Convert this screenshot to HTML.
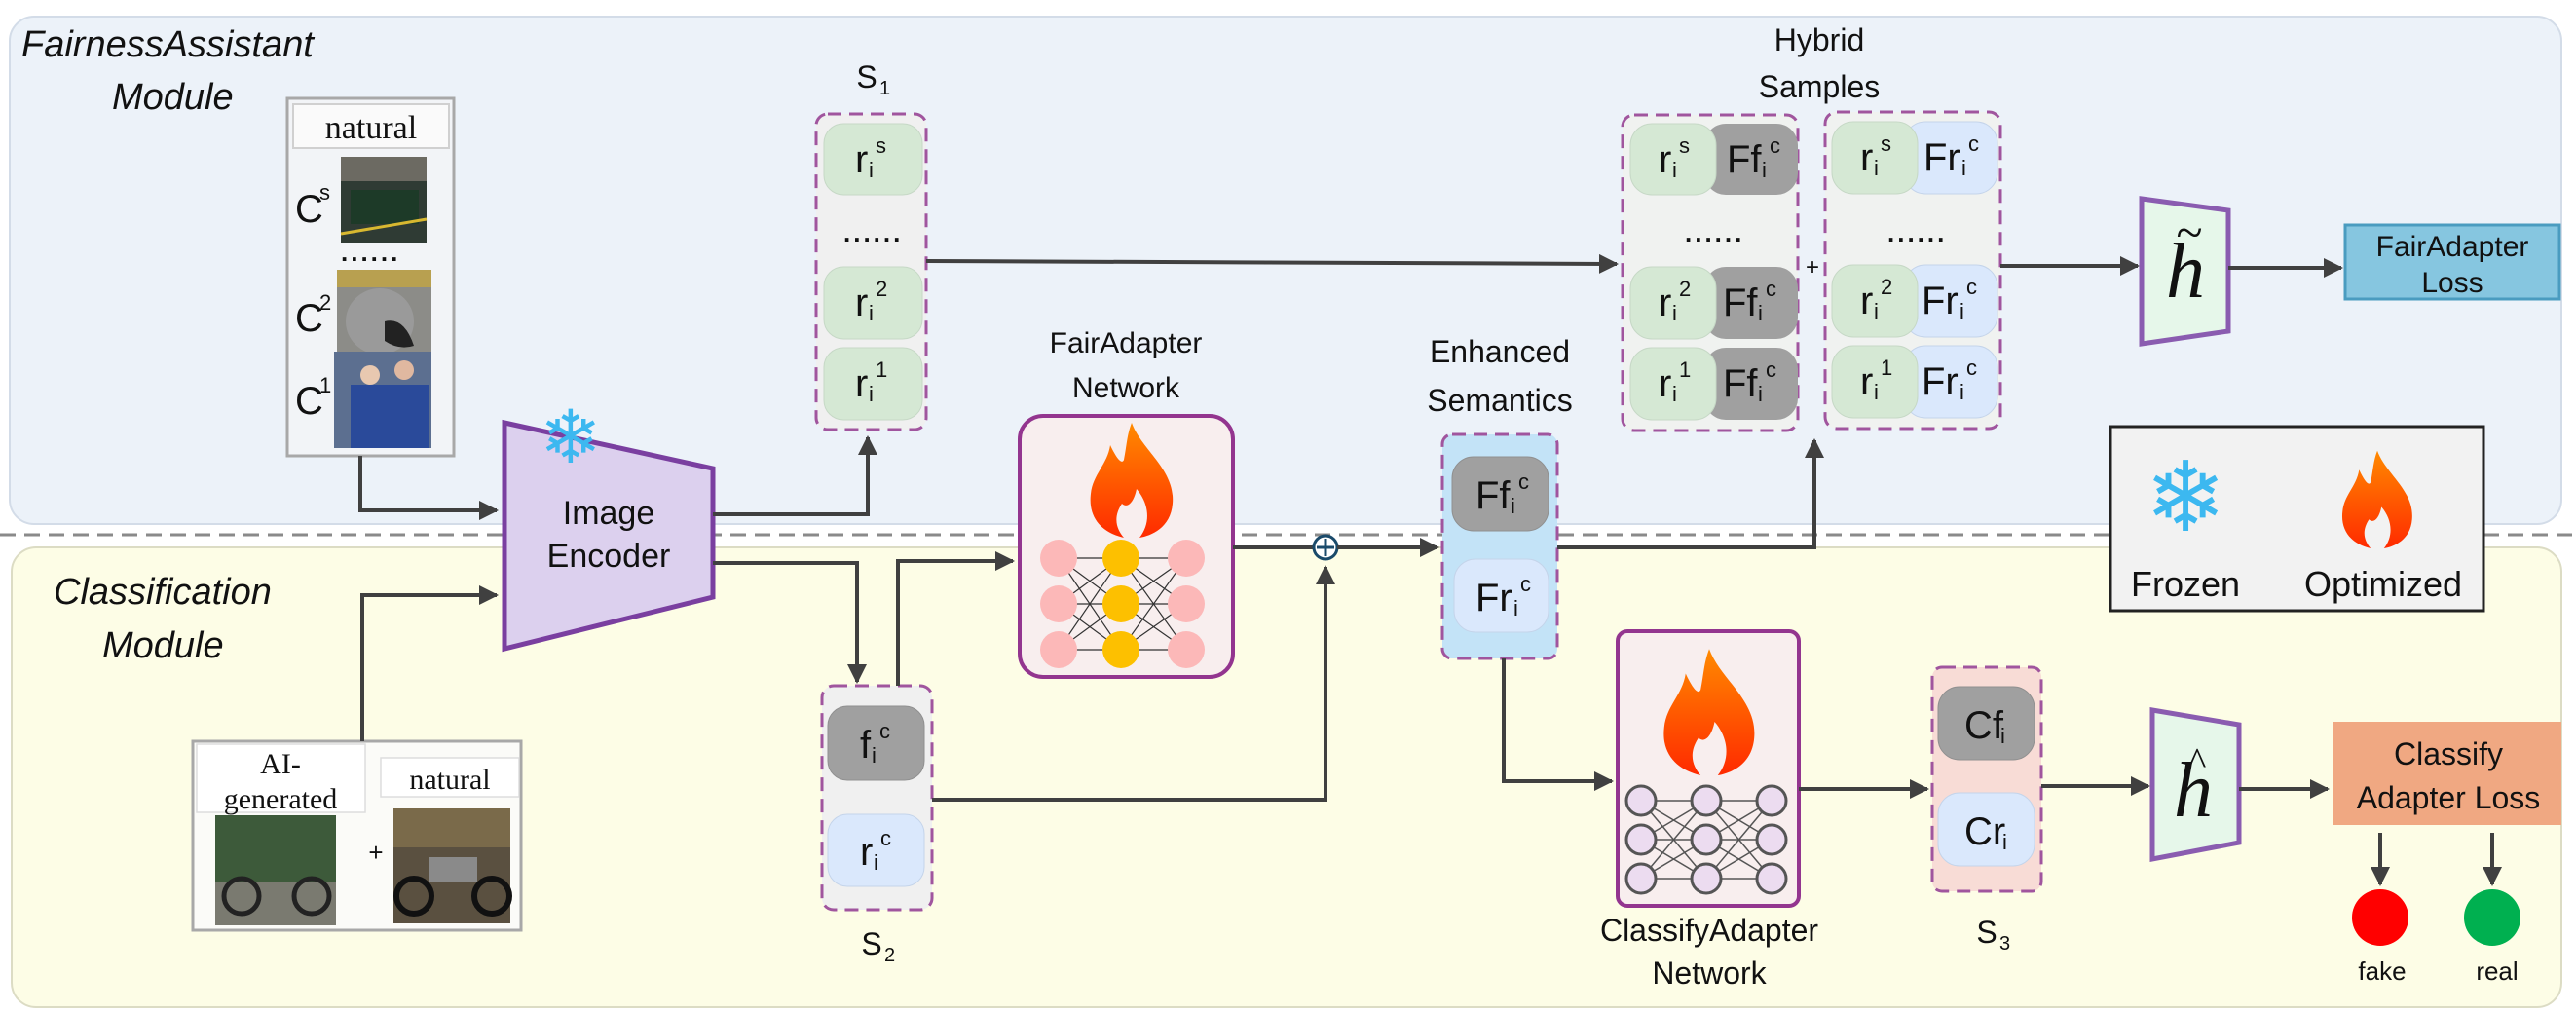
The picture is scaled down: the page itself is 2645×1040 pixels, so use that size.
<!DOCTYPE html>
<html><head><meta charset="utf-8"><style>
html,body{margin:0;padding:0;background:#fff}
svg{display:block}
text{font-family:"Liberation Sans",sans-serif;fill:#111}
</style></head><body>
<svg width="2645" height="1040" viewBox="0 0 2645 1040" xmlns="http://www.w3.org/2000/svg">
<defs>
<marker id="A" viewBox="0 0 10 10" refX="9" refY="5" markerWidth="20" markerHeight="20" orient="auto" markerUnits="userSpaceOnUse"><path d="M0,0 L10,5 L0,10 z" fill="#404040"/></marker>
<linearGradient id="fl" x1="0" y1="0" x2="0" y2="1"><stop offset="0" stop-color="#ff8a00"/><stop offset="1" stop-color="#ff2a00"/></linearGradient>
<g id="flame"><path d="M0,-58 C10,-30 45,-10 42,25 C40,50 20,58 8,60 C20,45 18,25 5,10 C2,25 -5,30 -10,25 C-20,40 -15,52 -8,60 C-30,55 -45,40 -42,15 C-40,-5 -25,-15 -22,-35 C-15,-20 -10,-15 -8,-20 C-5,-35 -5,-45 0,-58 z" fill="url(#fl)"/></g>
</defs>
<rect x="10" y="17" width="2620" height="521" rx="25" fill="#ecf2f9" stroke="#d3dce8" stroke-width="2"/>
<rect x="12" y="562" width="2618" height="472" rx="25" fill="#fdfde6" stroke="#dcdcc4" stroke-width="2"/>
<line x1="0" y1="549" x2="2645" y2="549" stroke="#8a8a8a" stroke-width="3" stroke-dasharray="16 9"/>
<text x="22" y="58" font-size="38" font-style="italic">FairnessAssistant</text>
<text x="115" y="112" font-size="38" font-style="italic">Module</text>
<text x="55" y="620" font-size="38" font-style="italic">Classification</text>
<text x="105" y="675" font-size="38" font-style="italic">Module</text>

<rect x="295" y="101" width="171" height="367" fill="#f2f4f7" stroke="#a8a8a8" stroke-width="3"/>
<rect x="301" y="107" width="160" height="45" fill="#fafafa" stroke="#d0d0d0" stroke-width="2"/>
<text x="381" y="142" font-size="34" text-anchor="middle" style="font-family:'Liberation Serif',serif">natural</text>
<rect x="350" y="161" width="88" height="88" fill="#2f3b34"/><rect x="350" y="161" width="88" height="25" fill="#6c6a62"/><rect x="360" y="195" width="70" height="35" fill="#1d3a28"/><line x1="350" y1="240" x2="438" y2="225" stroke="#d8b830" stroke-width="3"/>
<rect x="346" y="277" width="97" height="84" fill="#8c8c88"/><rect x="346" y="277" width="97" height="18" fill="#b8a050"/><ellipse cx="390" cy="330" rx="35" ry="34" fill="#9a9a9a"/><path d="M395,330 q20,-5 30,25 q-15,5 -30,-5z" fill="#222"/>
<rect x="343" y="361" width="100" height="99" fill="#5c6f90"/><rect x="360" y="395" width="80" height="65" fill="#2a4a9a"/><circle cx="380" cy="385" r="10" fill="#e8c8b0"/><circle cx="415" cy="380" r="10" fill="#e0b8a0"/>
<text x="303" y="228" font-size="40">C</text><text x="328" y="205" font-size="22">s</text>
<text x="350" y="268" font-size="26" font-weight="bold" letter-spacing="3">......</text>
<text x="303" y="340" font-size="40">C</text><text x="328" y="318" font-size="22">2</text>
<text x="303" y="425" font-size="40">C</text><text x="328" y="403" font-size="22">1</text>
<polyline points="370,468 370,524 510,524" fill="none" stroke="#404040" stroke-width="4" marker-end="url(#A)"/>

<rect x="198" y="761" width="337" height="194" fill="#fbfbf8" stroke="#a8a8a8" stroke-width="3"/>
<rect x="202" y="764" width="173" height="70" fill="#fff" stroke="#ddd" stroke-width="1.5"/>
<text x="288" y="794" font-size="30" text-anchor="middle" style="font-family:'Liberation Serif',serif">AI-</text>
<text x="288" y="830" font-size="30" text-anchor="middle" style="font-family:'Liberation Serif',serif">generated</text>
<rect x="391" y="778" width="142" height="40" fill="#fff" stroke="#ddd" stroke-width="1.5"/>
<text x="462" y="810" font-size="30" text-anchor="middle" style="font-family:'Liberation Serif',serif">natural</text>
<rect x="221" y="837" width="124" height="113" fill="#3d5a3a"/><rect x="221" y="905" width="124" height="45" fill="#7a7a70"/><circle cx="248" cy="920" r="18" fill="none" stroke="#222" stroke-width="5"/><circle cx="320" cy="920" r="18" fill="none" stroke="#222" stroke-width="5"/>
<rect x="404" y="830" width="120" height="118" fill="#5a5040"/><rect x="404" y="830" width="120" height="40" fill="#7a6a4a"/><circle cx="425" cy="920" r="18" fill="none" stroke="#111" stroke-width="6"/><circle cx="505" cy="920" r="18" fill="none" stroke="#111" stroke-width="6"/><rect x="440" y="880" width="50" height="25" fill="#8a8a8a"/>
<text x="386" y="884" font-size="26" text-anchor="middle">+</text>
<polyline points="372,761 372,611 510,611" fill="none" stroke="#404040" stroke-width="4" marker-end="url(#A)"/>

<polygon points="518,434 732,481 732,613 518,666" fill="#dcd0ee" stroke="#7a3fa0" stroke-width="5"/>
<text x="586" y="475" font-size="76" text-anchor="middle" style="fill:#3cb8f0;font-family:'DejaVu Sans',sans-serif">❄</text>
<text x="625" y="538" font-size="34" text-anchor="middle">Image</text>
<text x="625" y="582" font-size="34" text-anchor="middle">Encoder</text>
<polyline points="732,528 891,528 891,449" fill="none" stroke="#404040" stroke-width="4" marker-end="url(#A)"/>
<polyline points="732,578 880,578 880,700" fill="none" stroke="#404040" stroke-width="4" marker-end="url(#A)"/>

<text x="890" y="90" font-size="32" text-anchor="middle">S</text><text x="903" y="97" font-size="20">1</text>
<rect x="838" y="117" width="113" height="324" rx="12" fill="#f0f0f0" stroke="#a0559e" stroke-width="3" stroke-dasharray="14 8"/>
<rect x="846" y="127" width="101" height="73" rx="20" fill="#d5e8d4" stroke="#c6d8c6"/>
<rect x="846" y="274" width="101" height="74" rx="20" fill="#d5e8d4" stroke="#c6d8c6"/>
<rect x="846" y="357" width="101" height="74" rx="20" fill="#d5e8d4" stroke="#c6d8c6"/>
<text x="878" y="177" font-size="40">r</text><text x="892" y="182" font-size="22">i</text><text x="899" y="157" font-size="22">s</text>
<text x="866" y="248" font-size="26" font-weight="bold" letter-spacing="3">......</text>
<text x="878" y="324" font-size="40">r</text><text x="892" y="329" font-size="22">i</text><text x="899" y="304" font-size="22">2</text>
<text x="878" y="407" font-size="40">r</text><text x="892" y="412" font-size="22">i</text><text x="899" y="387" font-size="22">1</text>
<line x1="951" y1="268" x2="1660" y2="271" stroke="#404040" stroke-width="4" marker-end="url(#A)"/>

<rect x="844" y="704" width="113" height="230" rx="12" fill="#f0f0f0" stroke="#a0559e" stroke-width="3" stroke-dasharray="14 8"/>
<rect x="850" y="725" width="99" height="76" rx="20" fill="#a0a0a0" stroke="#909090"/>
<rect x="850" y="836" width="99" height="74" rx="20" fill="#dae8fc" stroke="#c4d4ea"/>
<text x="883" y="778" font-size="40">f</text><text x="895" y="783" font-size="22">i</text><text x="903" y="758" font-size="22">c</text>
<text x="883" y="888" font-size="40">r</text><text x="897" y="893" font-size="22">i</text><text x="904" y="868" font-size="22">c</text>
<text x="895" y="980" font-size="32" text-anchor="middle">S</text><text x="908" y="987" font-size="20">2</text>
<polyline points="922,704 922,576 1040,576" fill="none" stroke="#404040" stroke-width="4" marker-end="url(#A)"/>
<polyline points="957,821 1361,821 1361,582" fill="none" stroke="#404040" stroke-width="4" marker-end="url(#A)"/>

<text x="1156" y="362" font-size="30" text-anchor="middle">FairAdapter</text>
<text x="1156" y="408" font-size="30" text-anchor="middle">Network</text>
<rect x="1047" y="427" width="219" height="268" rx="24" fill="#f8eeee" stroke="#93358f" stroke-width="4"/>
<use href="#flame" transform="translate(1162,492)"/>
<g stroke="#333" stroke-width="1.2">
<line x1="1087" y1="573" x2="1151" y2="573"/><line x1="1087" y1="573" x2="1151" y2="620"/><line x1="1087" y1="573" x2="1151" y2="667"/>
<line x1="1087" y1="620" x2="1151" y2="573"/><line x1="1087" y1="620" x2="1151" y2="620"/><line x1="1087" y1="620" x2="1151" y2="667"/>
<line x1="1087" y1="667" x2="1151" y2="573"/><line x1="1087" y1="667" x2="1151" y2="620"/><line x1="1087" y1="667" x2="1151" y2="667"/>
<line x1="1151" y1="573" x2="1218" y2="573"/><line x1="1151" y1="573" x2="1218" y2="620"/><line x1="1151" y1="573" x2="1218" y2="667"/>
<line x1="1151" y1="620" x2="1218" y2="573"/><line x1="1151" y1="620" x2="1218" y2="620"/><line x1="1151" y1="620" x2="1218" y2="667"/>
<line x1="1151" y1="667" x2="1218" y2="573"/><line x1="1151" y1="667" x2="1218" y2="620"/><line x1="1151" y1="667" x2="1218" y2="667"/>
</g>
<g fill="#fcb8b8"><circle cx="1087" cy="573" r="19"/><circle cx="1087" cy="620" r="19"/><circle cx="1087" cy="667" r="19"/><circle cx="1218" cy="573" r="19"/><circle cx="1218" cy="620" r="19"/><circle cx="1218" cy="667" r="19"/></g>
<g fill="#fdc000"><circle cx="1151" cy="573" r="19"/><circle cx="1151" cy="620" r="19"/><circle cx="1151" cy="667" r="19"/></g>
<line x1="1266" y1="562" x2="1349" y2="562" stroke="#404040" stroke-width="4"/>
<circle cx="1361" cy="562" r="12" fill="#fff" stroke="#1a4a6a" stroke-width="3"/>
<line x1="1361" y1="553" x2="1361" y2="571" stroke="#1a4a6a" stroke-width="3"/><line x1="1352" y1="562" x2="1370" y2="562" stroke="#1a4a6a" stroke-width="3"/>
<line x1="1373" y1="562" x2="1476" y2="562" stroke="#404040" stroke-width="4" marker-end="url(#A)"/>

<text x="1540" y="372" font-size="32" text-anchor="middle">Enhanced</text>
<text x="1540" y="422" font-size="32" text-anchor="middle">Semantics</text>
<rect x="1481" y="446" width="118" height="230" rx="10" fill="#c3e3f7" stroke="#a0559e" stroke-width="3" stroke-dasharray="14 8"/>
<rect x="1491" y="469" width="99" height="76" rx="22" fill="#a0a0a0" stroke="#909090"/>
<rect x="1493" y="574" width="97" height="75" rx="22" fill="#dae8fc" stroke="#c4d4ea"/>
<text x="1515" y="522" font-size="40">Ff</text><text x="1551" y="527" font-size="22">i</text><text x="1559" y="502" font-size="22">c</text>
<text x="1515" y="627" font-size="40">Fr</text><text x="1554" y="632" font-size="22">i</text><text x="1561" y="607" font-size="22">c</text>
<polyline points="1599,562 1863,562 1863,452" fill="none" stroke="#404040" stroke-width="4" marker-end="url(#A)"/>
<polyline points="1544,676 1544,802 1655,802" fill="none" stroke="#404040" stroke-width="4" marker-end="url(#A)"/>

<text x="1868" y="52" font-size="32" text-anchor="middle">Hybrid</text>
<text x="1868" y="100" font-size="32" text-anchor="middle">Samples</text>
<rect x="1666" y="118" width="180" height="324" rx="12" fill="#f0f2f0" stroke="#a0559e" stroke-width="3" stroke-dasharray="14 8"/>
<rect x="1874" y="115" width="180" height="325" rx="12" fill="#f0f2f0" stroke="#a0559e" stroke-width="3" stroke-dasharray="14 8"/>
<text x="1861" y="282" font-size="24" text-anchor="middle">+</text>
<rect x="1750" y="127" width="96" height="73" rx="22" fill="#a0a0a0"/><rect x="1674" y="127" width="88" height="73" rx="22" fill="#d5e8d4" stroke="#c6d8c6"/>
<rect x="1750" y="274" width="96" height="74" rx="22" fill="#a0a0a0"/><rect x="1674" y="274" width="88" height="74" rx="22" fill="#d5e8d4" stroke="#c6d8c6"/>
<rect x="1750" y="357" width="96" height="74" rx="22" fill="#a0a0a0"/><rect x="1674" y="357" width="88" height="74" rx="22" fill="#d5e8d4" stroke="#c6d8c6"/>
<rect x="1955" y="125" width="96" height="74" rx="22" fill="#dae8fc" stroke="#c4d4ea"/><rect x="1881" y="125" width="88" height="74" rx="22" fill="#d5e8d4" stroke="#c6d8c6"/>
<rect x="1955" y="272" width="96" height="74" rx="22" fill="#dae8fc" stroke="#c4d4ea"/><rect x="1881" y="272" width="88" height="74" rx="22" fill="#d5e8d4" stroke="#c6d8c6"/>
<rect x="1955" y="355" width="96" height="74" rx="22" fill="#dae8fc" stroke="#c4d4ea"/><rect x="1881" y="355" width="88" height="74" rx="22" fill="#d5e8d4" stroke="#c6d8c6"/>
<text x="1703" y="177" font-size="40">r</text><text x="1717" y="182" font-size="22">i</text><text x="1724" y="157" font-size="22">s</text>
<text x="1773" y="177" font-size="40">Ff</text><text x="1809" y="182" font-size="22">i</text><text x="1817" y="157" font-size="22">c</text>
<text x="1730" y="248" font-size="26" font-weight="bold" letter-spacing="3">......</text>
<text x="1703" y="324" font-size="40">r</text><text x="1717" y="329" font-size="22">i</text><text x="1724" y="304" font-size="22">2</text>
<text x="1769" y="324" font-size="40">Ff</text><text x="1805" y="329" font-size="22">i</text><text x="1813" y="304" font-size="22">c</text>
<text x="1703" y="407" font-size="40">r</text><text x="1717" y="412" font-size="22">i</text><text x="1724" y="387" font-size="22">1</text>
<text x="1769" y="407" font-size="40">Ff</text><text x="1805" y="412" font-size="22">i</text><text x="1813" y="387" font-size="22">c</text>
<text x="1910" y="175" font-size="40">r</text><text x="1924" y="180" font-size="22">i</text><text x="1931" y="155" font-size="22">s</text>
<text x="1975" y="175" font-size="40">Fr</text><text x="2014" y="180" font-size="22">i</text><text x="2021" y="155" font-size="22">c</text>
<text x="1938" y="248" font-size="26" font-weight="bold" letter-spacing="3">......</text>
<text x="1910" y="322" font-size="40">r</text><text x="1924" y="327" font-size="22">i</text><text x="1931" y="302" font-size="22">2</text>
<text x="1973" y="322" font-size="40">Fr</text><text x="2012" y="327" font-size="22">i</text><text x="2019" y="302" font-size="22">c</text>
<text x="1910" y="405" font-size="40">r</text><text x="1924" y="410" font-size="22">i</text><text x="1931" y="385" font-size="22">1</text>
<text x="1973" y="405" font-size="40">Fr</text><text x="2012" y="410" font-size="22">i</text><text x="2019" y="385" font-size="22">c</text>
<line x1="2054" y1="273" x2="2195" y2="273" stroke="#404040" stroke-width="4" marker-end="url(#A)"/>

<polygon points="2199,204 2288,216 2288,340 2199,353" fill="#e6f7ea" stroke="#8a5cb0" stroke-width="5"/>
<text x="2244" y="305" font-size="80" font-style="italic" text-anchor="middle" style="font-family:'Liberation Serif',serif">h</text>
<text x="2248" y="255" font-size="50" text-anchor="middle" style="font-family:'Liberation Serif',serif">~</text>
<line x1="2288" y1="275" x2="2404" y2="275" stroke="#404040" stroke-width="4" marker-end="url(#A)"/>
<rect x="2408" y="231" width="220" height="76" fill="#86c6e0" stroke="#4a9cc0" stroke-width="3"/>
<text x="2518" y="263" font-size="30" text-anchor="middle">FairAdapter</text>
<text x="2518" y="300" font-size="30" text-anchor="middle">Loss</text>

<rect x="2167" y="438" width="383" height="189" fill="#f2f2f2" stroke="#222" stroke-width="3"/>
<text x="2244" y="545" font-size="100" text-anchor="middle" style="fill:#3cb8f0;font-family:'DejaVu Sans',sans-serif">❄</text>
<use href="#flame" transform="translate(2441,512) scale(0.85)"/>
<text x="2244" y="612" font-size="36" text-anchor="middle">Frozen</text>
<text x="2447" y="612" font-size="36" text-anchor="middle">Optimized</text>

<rect x="1661" y="648" width="186" height="282" rx="10" fill="#f8eeee" stroke="#93358f" stroke-width="4"/>
<use href="#flame" transform="translate(1755,730) scale(1.1)"/>
<g stroke="#555" stroke-width="1.5">
<line x1="1685" y1="822" x2="1752" y2="822"/><line x1="1685" y1="822" x2="1752" y2="862"/><line x1="1685" y1="822" x2="1752" y2="902"/>
<line x1="1685" y1="862" x2="1752" y2="822"/><line x1="1685" y1="862" x2="1752" y2="862"/><line x1="1685" y1="862" x2="1752" y2="902"/>
<line x1="1685" y1="902" x2="1752" y2="822"/><line x1="1685" y1="902" x2="1752" y2="862"/><line x1="1685" y1="902" x2="1752" y2="902"/>
<line x1="1752" y1="822" x2="1819" y2="822"/><line x1="1752" y1="822" x2="1819" y2="862"/><line x1="1752" y1="822" x2="1819" y2="902"/>
<line x1="1752" y1="862" x2="1819" y2="822"/><line x1="1752" y1="862" x2="1819" y2="862"/><line x1="1752" y1="862" x2="1819" y2="902"/>
<line x1="1752" y1="902" x2="1819" y2="822"/><line x1="1752" y1="902" x2="1819" y2="862"/><line x1="1752" y1="902" x2="1819" y2="902"/>
</g>
<g fill="#ecdcf0" stroke="#555" stroke-width="3">
<circle cx="1685" cy="822" r="15"/><circle cx="1685" cy="862" r="15"/><circle cx="1685" cy="902" r="15"/>
<circle cx="1752" cy="822" r="15"/><circle cx="1752" cy="862" r="15"/><circle cx="1752" cy="902" r="15"/>
<circle cx="1819" cy="822" r="15"/><circle cx="1819" cy="862" r="15"/><circle cx="1819" cy="902" r="15"/>
</g>
<text x="1755" y="966" font-size="32" text-anchor="middle">ClassifyAdapter</text>
<text x="1755" y="1010" font-size="32" text-anchor="middle">Network</text>
<line x1="1847" y1="810" x2="1979" y2="810" stroke="#404040" stroke-width="4" marker-end="url(#A)"/>

<rect x="1984" y="685" width="112" height="230" rx="10" fill="#f8dcd6" stroke="#a0559e" stroke-width="3" stroke-dasharray="14 8"/>
<rect x="1990" y="705" width="99" height="75" rx="22" fill="#a0a0a0" stroke="#909090"/>
<rect x="1990" y="814" width="99" height="75" rx="22" fill="#dae8fc" stroke="#c4d4ea"/>
<text x="2017" y="758" font-size="40">Cf</text><text x="2054" y="763" font-size="22">i</text>
<text x="2017" y="867" font-size="40">Cr</text><text x="2056" y="872" font-size="22">i</text>
<text x="2040" y="968" font-size="32" text-anchor="middle">S</text><text x="2053" y="975" font-size="20">3</text>
<line x1="2096" y1="807" x2="2206" y2="807" stroke="#404040" stroke-width="4" marker-end="url(#A)"/>

<polygon points="2210,729 2299,744 2299,865 2210,882" fill="#e6f7ea" stroke="#8a5cb0" stroke-width="5"/>
<text x="2252" y="838" font-size="80" font-style="italic" text-anchor="middle" style="font-family:'Liberation Serif',serif">h</text>
<text x="2256" y="795" font-size="40" text-anchor="middle" style="font-family:'Liberation Serif',serif">^</text>
<line x1="2299" y1="810" x2="2390" y2="810" stroke="#404040" stroke-width="4" marker-end="url(#A)"/>
<rect x="2395" y="741" width="235" height="106" fill="#f0a882"/>
<text x="2514" y="785" font-size="32" text-anchor="middle">Classify</text>
<text x="2514" y="830" font-size="32" text-anchor="middle">Adapter Loss</text>
<line x1="2444" y1="855" x2="2444" y2="908" stroke="#404040" stroke-width="4" marker-end="url(#A)"/>
<line x1="2559" y1="855" x2="2559" y2="908" stroke="#404040" stroke-width="4" marker-end="url(#A)"/>
<circle cx="2444" cy="942" r="29" fill="#ff0000"/>
<circle cx="2559" cy="942" r="29" fill="#00b050"/>
<text x="2446" y="1006" font-size="26" text-anchor="middle">fake</text>
<text x="2564" y="1006" font-size="26" text-anchor="middle">real</text>
</svg>
</body></html>
